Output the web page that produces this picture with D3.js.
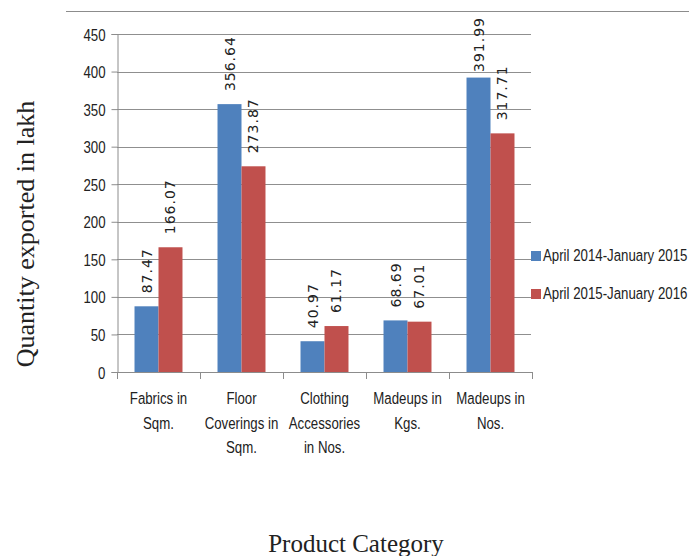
<!DOCTYPE html>
<html>
<head>
<meta charset="utf-8">
<script src="https://cdn.jsdelivr.net/npm/d3@7"></script>
<style>
  body { margin: 0; background: #fff; }
  svg { display: block; }
</style>
</head>
<body>
<div id="chart"></div>
<script>
// data
var categories = [
    ["Fabrics in", "Sqm."],
    ["Floor", "Coverings in", "Sqm."],
    ["Clothing", "Accessories", "in Nos."],
    ["Madeups in", "Kgs."],
    ["Madeups in", "Nos."]
];
var seriesNames = ["April 2014-January 2015", "April 2015-January 2016"];
var series2014 = [87.47, 356.64, 40.97, 68.69, 391.99];
var series2015 = [166.07, 273.87, 61.17, 67.01, 317.71];
var yTicks = [0, 50, 100, 150, 200, 250, 300, 350, 400, 450];
var colors = ["#4F81BD", "#C0504D"];

var svgWidth = 689;
var svgHeight = 556;
var margin = { top: 34, left: 117, right: 157, bottom: 184 };
var chart_width = svgWidth - margin.left - margin.right;   // 415
var chart_height = svgHeight - margin.top - margin.bottom; // 338

var sans = "'Liberation Sans', Arial, sans-serif";
var squeeze = 0.78; // the original font is a narrow one

var svg = d3.select("#chart").append("svg")
    .attr("width", svgWidth)
    .attr("height", svgHeight);

// thin rule at the very top
svg.append("line")
    .attr("x1", 66).attr("x2", svgWidth)
    .attr("y1", 11.5).attr("y2", 11.5)
    .attr("stroke", "#8c8c8c").attr("stroke-width", 1);

var chartGroup = svg.append("g")
    .attr("transform", `translate(${margin.left}, ${margin.top})`);

var idx = categories.map((c, i) => i);

var x0 = d3.scaleBand().domain(idx).range([0, chart_width]).padding(0);
var x1 = d3.scaleBand().domain([0, 1]).range([0, x0.bandwidth()])
    .paddingInner(0).paddingOuter(0.73);
var yScale = d3.scaleLinear().domain([0, 450]).range([chart_height, 0]);

// gridlines
chartGroup.append("g")
    .selectAll("line")
    .data(yTicks.slice(1))
    .enter().append("line")
    .attr("x1", 0).attr("x2", chart_width - 1)
    .attr("y1", d => Math.round(yScale(d)) + 0.5)
    .attr("y2", d => Math.round(yScale(d)) + 0.5)
    .attr("stroke", "#8f8f8f");

// y axis
var leftAxis = d3.axisLeft(yScale).tickValues(yTicks).tickSize(6).tickPadding(6);
var yAxisG = chartGroup.append("g").attr("transform", "translate(0.5,0)").call(leftAxis);
yAxisG.select(".domain").attr("stroke", "#8c8c8c");
yAxisG.selectAll(".tick line").attr("stroke", "#8c8c8c");
yAxisG.selectAll(".tick text")
    .attr("x", null).attr("dy", null)
    .attr("transform", `translate(-12, 6) scale(${squeeze}, 1)`)
    .attr("font-family", sans).attr("font-size", 17).attr("fill", "#222");

// x axis: baseline plus category separators
chartGroup.append("line")
    .attr("x1", 0).attr("x2", chart_width)
    .attr("y1", chart_height + 0.5).attr("y2", chart_height + 0.5)
    .attr("stroke", "#8c8c8c");
chartGroup.append("g")
    .selectAll("line")
    .data(idx.concat([idx.length]))
    .enter().append("line")
    .attr("x1", d => Math.round(d * x0.step()) + 0.5)
    .attr("x2", d => Math.round(d * x0.step()) + 0.5)
    .attr("y1", chart_height).attr("y2", chart_height + 7)
    .attr("stroke", "#8c8c8c");

// category labels, one text per line
categories.forEach(function(lines, i) {
    chartGroup.append("g").selectAll("text")
        .data(lines)
        .enter().append("text")
        .attr("transform", (d, j) =>
            `translate(${x0(i) + x0.bandwidth() / 2}, ${chart_height + 32 + j * 24.5}) scale(${squeeze}, 1)`)
        .attr("text-anchor", "middle")
        .attr("font-family", sans).attr("font-size", 17).attr("fill", "#222")
        .text(d => d);
});

// bars
var allSeries = [series2014, series2015];
allSeries.forEach(function(vals, s) {
    chartGroup.append("g")
        .selectAll("rect")
        .data(vals)
        .enter().append("rect")
        .attr("x", (d, i) => x0(i) + x1(s))
        .attr("y", d => yScale(d))
        .attr("width", x1.bandwidth())
        .attr("height", d => chart_height - yScale(d))
        .attr("fill", colors[s]);

    // rotated value labels (kept inside the chart area at the top, like Excel does)
    chartGroup.append("g")
        .selectAll("text")
        .data(vals)
        .enter().append("text")
        .attr("font-family", "'DejaVu Sans', Verdana, sans-serif")
        .attr("font-size", 14)
        .attr("letter-spacing", 1)
        .attr("fill", "#222")
        .text(d => d.toFixed(2))
        .attr("transform", function(d, i) {
            var len = this.getComputedTextLength();
            var yStart = Math.max(yScale(d) - 13, -17 + len);
            return `translate(${x0(i) + x1(s) + x1.bandwidth() / 2 + 5}, ${yStart}) rotate(-90)`;
        });
});

// legend
var legend = svg.append("g")
    .selectAll("g")
    .data(seriesNames)
    .enter().append("g")
    .attr("transform", (d, i) => `translate(531, ${251 + i * 38})`);
legend.append("rect")
    .attr("width", 10).attr("height", 10)
    .attr("fill", (d, i) => colors[i]);
legend.append("text")
    .attr("transform", `translate(12, 10) scale(${squeeze}, 1)`)
    .attr("font-family", sans).attr("font-size", 17).attr("fill", "#222")
    .text(d => d);

// axis titles
svg.append("text")
    .attr("transform", "translate(34, 234) rotate(-90)")
    .attr("text-anchor", "middle")
    .attr("font-family", "'Liberation Serif', 'Times New Roman', serif")
    .attr("font-size", 26).attr("fill", "#222")
    .text("Quantity exported in lakh");

svg.append("text")
    .attr("x", 356).attr("y", 552)
    .attr("text-anchor", "middle")
    .attr("font-family", "'Liberation Serif', 'Times New Roman', serif")
    .attr("font-size", 25).attr("fill", "#222")
    .text("Product Category");
</script>
</body>
</html>
